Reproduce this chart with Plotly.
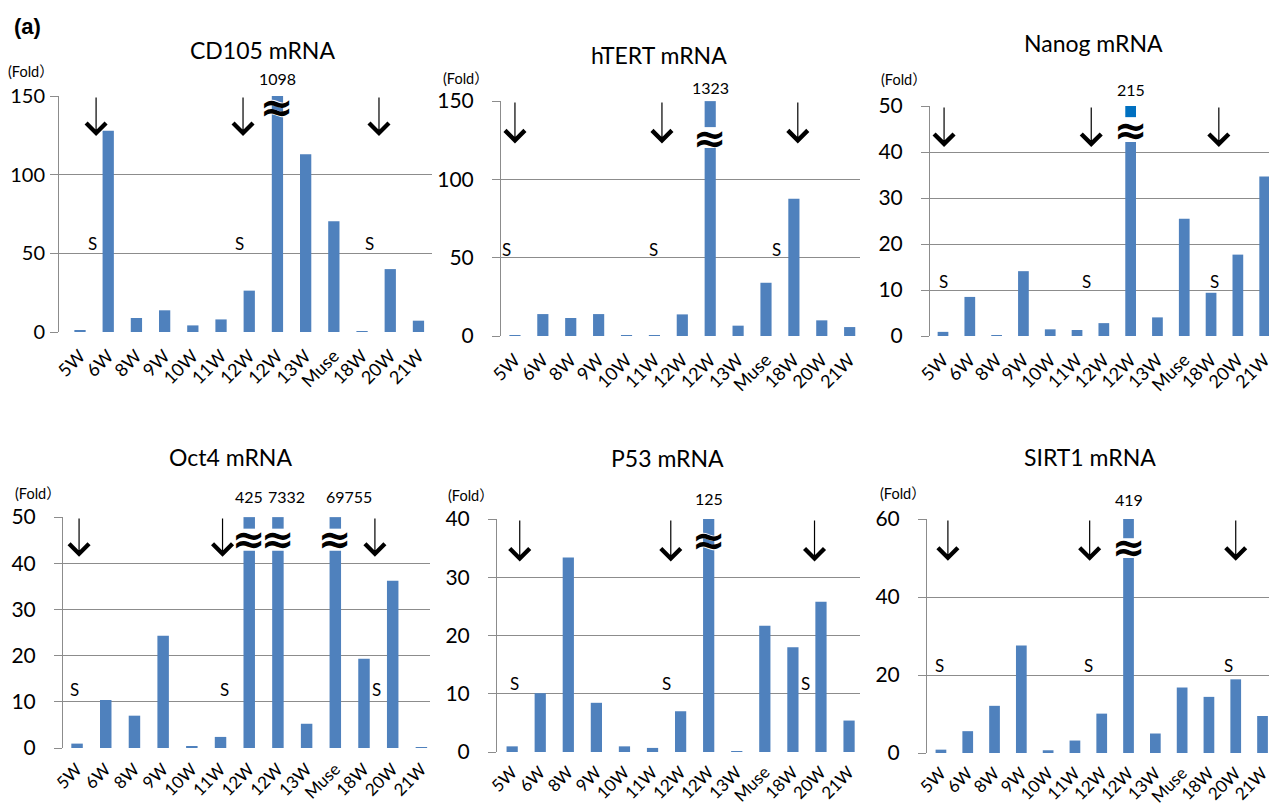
import plotly.graph_objects as go

# ---------------- data ----------------
categories = ["5W", "6W", "8W", "9W", "10W", "11W", "12W", "12W", "13W", "Muse", "18W", "20W", "21W"]

cd105_values = [1.0, 128, 8.9, 13.8, 4.2, 8.0, 26.3, 1098, 113, 70.5, 0.2, 40, 7.2]
htert_values = [0.6, 14, 11.5, 14, 0.6, 0.2, 13.8, 1323, 6.6, 34, 87.7, 10, 5.7]
nanog_values = [0.9, 8.5, 0.2, 14.1, 1.45, 1.3, 2.8, 215, 4.05, 25.5, 9.4, 17.7, 34.7]
oct4_values = [0.95, 10.4, 7.0, 24.3, 0.3, 2.4, 425, 7332, 5.25, 69755, 19.35, 36.2, 0.1]
p53_values = [0.97, 10.1, 33.4, 8.45, 0.97, 0.7, 7.0, 125, 0.15, 21.7, 18.0, 25.8, 5.4]
sirt1_values = [0.86, 5.6, 12.1, 27.6, 0.7, 3.2, 10.1, 419, 5.0, 16.8, 14.4, 18.9, 9.5]

titles = ["CD105 mRNA", "hTERT mRNA", "Nanog mRNA", "Oct4 mRNA", "P53 mRNA", "SIRT1 mRNA"]
series = [cd105_values, htert_values, nanog_values, oct4_values, p53_values, sirt1_values]

# ---------------- layout / styling config ----------------
W, H = 1277, 809          # reference picture size
OFF = 8                   # page body margin
FW, FH = W - OFF, H - OFF # figure size
BAR = "#4F81BD"
GRID = "#8C8C8C"
FONT = "Lato, 'Noto Sans CJK JP', sans-serif"


def px_x(p):
    return (p - OFF) / FW


def px_y(p):
    return 1 - (p - OFF) / FH


cfg = [
    dict(px=(59, 432), py=(96, 332), xr=(-0.745, 12.48), cap=150, dtick=50,
         low=151, gap=None, top=None, tilde=143, upcol=BAR,
         arrows=[0.57, 5.78, 10.6], a_top=150, a_tip=124.6,
         s_x=[0.43, 5.64, 10.28], s_y=56, lab_shift=6, lab_dx=[0],
         title=(262, 50), fold=(56, 72), stand=1, yfs=20, xfs=18, xst=9, halo=True),
    dict(px=(501, 860), py=(101, 336), xr=(-0.50, 12.37), cap=150, dtick=50,
         low=120, gap=133.4, top=150, tilde=126.5, upcol=BAR,
         arrows=[0.0, 5.27, 10.14], a_top=150, a_tip=123,
         s_x=[-0.32, 4.96, 9.38], s_y=55, lab_shift=2, lab_dx=[0],
         title=(659, 55), fold=(491, 78), stand=14, yfs=21, xfs=18, xst=9, halo=False),
    dict(px=(930, 1277), py=(106, 336), xr=(-0.485, 12.46), cap=50, dtick=10,
         low=42.2, gap=47.6, top=51.3, tilde=44.8, upcol="#0070C0",
         arrows=[0.04, 5.53, 10.29], a_top=50, a_tip=41.1,
         s_x=[0.02, 5.37, 10.11], s_y=11.8, lab_shift=5, lab_dx=[0],
         title=(1093, 43), fold=(929, 79), stand=14, yfs=21, xfs=18, xst=9, halo=False),
    dict(px=(63, 430), py=(517, 748), xr=(-0.49, 12.3), cap=50, dtick=10,
         low=42.7, gap=47.5, top=50, tilde=45.2, upcol=BAR,
         arrows=[0.07, 5.07, 10.38], a_top=50, a_tip=41.4,
         s_x=[-0.08, 5.13, 10.44], s_y=12.6, lab_shift=9, lab_dx=[0, 9, 14],
         title=(230, 457), fold=(63, 493), stand=14, yfs=21, xfs=17, xst=7, halo=False),
    dict(px=(497, 860), py=(519, 752), xr=(-0.54, 12.39), cap=40, dtick=10,
         low=40.2, gap=None, top=None, tilde=36.4, upcol=BAR,
         arrows=[0.27, 5.65, 10.77], a_top=40, a_tip=32.7,
         s_x=[0.1, 5.48, 10.45], s_y=11.8, lab_shift=9, lab_dx=[0],
         title=(667, 458), fold=(496, 495), stand=14, yfs=21, xfs=17, xst=6, halo=True),
    dict(px=(927, 1277), py=(519, 753), xr=(-0.52, 12.54), cap=60, dtick=20,
         low=50, gap=55.1, top=62.2, tilde=52.8, upcol=BAR,
         arrows=[0.26, 5.55, 11.0], a_top=60, a_tip=49.3,
         s_x=[-0.07, 5.5, 10.73], s_y=22.5, lab_shift=8, lab_dx=[0],
         title=(1090, 457), fold=(928, 493), stand=14, yfs=21, xfs=17, xst=6, halo=False),
]

xs = list(range(len(categories)))
fig = go.Figure()
annotations = []
layout = {}

for i, (vals, c, ttl) in enumerate(zip(series, cfg, titles)):
    n = "" if i == 0 else str(i + 1)
    xa, ya = "x" + n, "y" + n
    broken = [k for k, v in enumerate(vals) if v > c["cap"]]
    shown = [v if v <= c["cap"] else c["low"] for v in vals]
    fig.add_trace(go.Bar(x=xs, y=shown, width=0.4, marker=dict(color=BAR, line=dict(width=0)),
                         xaxis=xa, yaxis=ya, cliponaxis=False, showlegend=False, hoverinfo="skip"))
    if c["gap"] is not None:
        fig.add_trace(go.Bar(x=broken, y=[c["top"] - c["gap"]] * len(broken), base=[c["gap"]] * len(broken),
                             width=0.4, marker=dict(color=c["upcol"], line=dict(width=0)),
                             xaxis=xa, yaxis=ya, cliponaxis=False, showlegend=False, hoverinfo="skip"))
    x0, x1 = c["px"]
    yt, yb = c["py"]
    layout["xaxis" + n] = dict(domain=[px_x(x0), min(1.0, px_x(x1))], range=list(c["xr"]), anchor=ya,
                               tickmode="array", tickvals=xs, ticktext=categories, tickangle=-45,
                               tickfont=dict(family=FONT, size=c["xfs"], color="black"),
                               showgrid=False, showline=False, zeroline=False, ticks="",
                               ticklabelstandoff=c["xst"], fixedrange=True, automargin=False)
    layout["yaxis" + n] = dict(domain=[px_y(yb), px_y(yt)], range=[0, c["cap"] * 1.0005], anchor=xa,
                               tickmode="linear", tick0=0, dtick=c["dtick"],
                               tickfont=dict(family=FONT, size=c["yfs"], color="black"),
                               showgrid=True, gridcolor=GRID, gridwidth=1,
                               showline=True, linecolor=GRID, linewidth=1,
                               ticks="outside", ticklen=8, tickcolor=GRID, tickwidth=1,
                               ticklabelstandoff=c["stand"], zeroline=False, fixedrange=True,
                               automargin=False)
    # title and unit
    annotations.append(dict(text=ttl, x=px_x(c["title"][0]), y=px_y(c["title"][1]), xref="paper", yref="paper",
                            showarrow=False, font=dict(family=FONT, size=23, color="black"),
                            xanchor="center", yanchor="middle"))
    annotations.append(dict(text="(Fold）", x=px_x(c["fold"][0]), y=px_y(c["fold"][1]), xref="paper", yref="paper",
                            showarrow=False, font=dict(family=FONT, size=14.5, color="black"),
                            xanchor="right", yanchor="middle"))
    # value labels of broken bars
    for j, k in enumerate(broken):
        dx = c["lab_dx"][j] if j < len(c["lab_dx"]) else 0
        annotations.append(dict(text=str(vals[k]), x=k, y=c["cap"], xref=xa, yref=ya, showarrow=False,
                                yanchor="bottom", yshift=c["lab_shift"], xshift=dx,
                                font=dict(family=FONT, size=16, color="black")))
        if c["halo"]:
            annotations.append(dict(text="<b>≈</b>", x=k, y=c["tilde"], xref=xa, yref=ya, showarrow=False,
                                    font=dict(family="DejaVu Sans", size=46, color="white"),
                                    yanchor="middle", xanchor="center"))
        annotations.append(dict(text="<b>≈</b>", x=k, y=c["tilde"], xref=xa, yref=ya, showarrow=False,
                                font=dict(family="DejaVu Sans", size=40, color="black"),
                                yanchor="middle", xanchor="center"))
    # arrows
    for axp in c["arrows"]:
        annotations.append(dict(text="", x=axp, y=c["a_tip"], ax=axp, ay=c["a_top"], xref=xa, yref=ya,
                                axref=xa, ayref=ya, showarrow=True, arrowhead=4, arrowsize=3.2,
                                arrowwidth=1.2, arrowcolor="black", standoff=0, startstandoff=0))
    # S marks
    for sx in c["s_x"]:
        annotations.append(dict(text="S", x=sx, y=c["s_y"], xref=xa, yref=ya, showarrow=False,
                                font=dict(family=FONT, size=17, color="black")))

annotations.append(dict(text="<b>(a)</b>", x=px_x(12), y=px_y(27), xref="paper", yref="paper",
                        showarrow=False, xanchor="left", yanchor="middle",
                        font=dict(family="Arial, Liberation Sans, sans-serif", size=22, color="black")))

fig.update_layout(width=FW, height=FH, margin=dict(l=0, r=0, t=0, b=0, pad=0, autoexpand=False),
                  paper_bgcolor="white", plot_bgcolor="white", barmode="overlay",
                  annotations=annotations, **layout)

fig.write_html("out.html", config={"displayModeBar": False})
